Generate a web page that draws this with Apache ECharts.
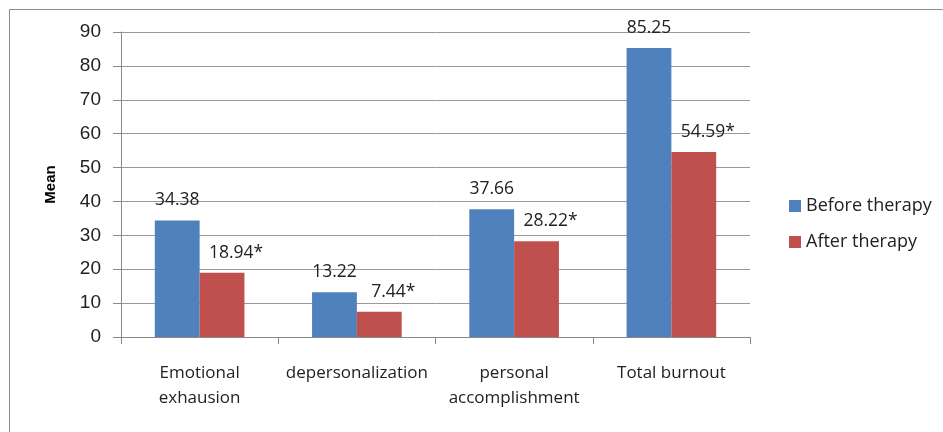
<!DOCTYPE html>
<html><head><meta charset="utf-8">
<script src="https://cdn.jsdelivr.net/npm/echarts@6/dist/echarts.min.js"></script>
<style>html,body{margin:0;padding:0;background:#fff}#c{width:943px;height:432px}</style>
</head><body><div id="c"></div>
<script>
const categories = ['Emotional\nexhausion', 'depersonalization', 'personal\naccomplishment', 'Total burnout'];
const before = [34.38, 13.22, 37.66, 85.25];
const after = [18.94, 7.44, 28.22, 54.59];
const afterLabels = ['18.94*', '7.44*', '28.22*', '54.59*'];
const yTicks = [0, 10, 20, 30, 40, 50, 60, 70, 80, 90];

const chart = echarts.init(document.getElementById('c'));
const labelFont = {fontFamily: 'Open Sans', fontSize: 17.5, color: '#222'};
chart.setOption({
  animation: false,
  graphic: [{type: 'rect', shape: {x: 9.5, y: 9.5, width: 940, height: 430}, style: {fill: 'none', stroke: '#8c8c8c', lineWidth: 1}}],
  grid: {left: 121, right: 193, top: 32, bottom: 95},
  legend: {
    orient: 'vertical', left: 784, top: 192, itemWidth: 12, itemHeight: 12, itemGap: 18,
    icon: 'rect', textStyle: {fontFamily: 'Open Sans', fontSize: 18, color: '#222'},
    data: ['Before therapy', 'After therapy']
  },
  xAxis: {
    type: 'category', data: categories,
    axisLine: {lineStyle: {color: '#888'}},
    axisTick: {show: true, length: 7, lineStyle: {color: '#888'}},
    axisLabel: {interval: 0, fontFamily: 'Open Sans', fontSize: 17, color: '#222', lineHeight: 25, margin: 24}
  },
  yAxis: {
    type: 'value', min: 0, max: 90, interval: 10,
    name: 'Mean', nameLocation: 'middle', nameGap: 63, nameRotate: 90,
    nameTextStyle: {fontFamily: 'Liberation Sans', fontWeight: 'bold', fontSize: 15, color: '#000'},
    axisLine: {show: true, lineStyle: {color: '#888'}},
    axisTick: {show: true, length: 8, lineStyle: {color: '#888'}},
    axisLabel: {fontFamily: 'Liberation Sans', fontSize: 19, color: '#222', margin: 20,
      formatter: v => yTicks.includes(v) ? String(v) : ''},
    splitLine: {lineStyle: {color: '#999', width: 1}}
  },
  series: [
    {name: 'Before therapy', type: 'bar', data: before, barGap: '0%', barCategoryGap: '43%',
      itemStyle: {color: '#4F81BD'},
      label: {show: true, position: 'top', distance: 11, ...labelFont}},
    {name: 'After therapy', type: 'bar', data: after,
      itemStyle: {color: '#C0504D'},
      label: {show: true, position: 'top', distance: 11, offset: [14, 0], ...labelFont,
        formatter: p => afterLabels[p.dataIndex]}}
  ]
});
</script></body></html>
